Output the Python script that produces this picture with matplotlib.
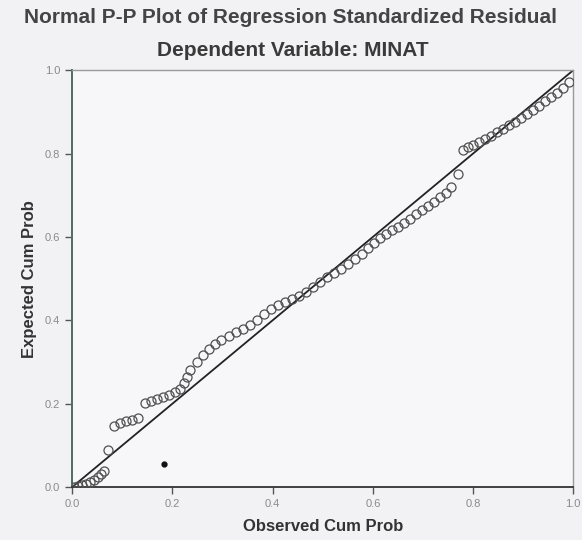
import numpy as np
import matplotlib
matplotlib.use('Agg')
import matplotlib.pyplot as plt

plt.rcParams['font.family'] = ['Liberation Sans', 'DejaVu Sans']

# observed / expected cumulative probabilities
obs = [0.004, 0.012, 0.020, 0.028, 0.036, 0.044, 0.052, 0.058, 0.064, 0.072,
       0.084, 0.096, 0.108, 0.120, 0.132,
       0.146, 0.158, 0.170, 0.182, 0.194, 0.206, 0.216, 0.224, 0.230,
       0.236, 0.250, 0.262, 0.274, 0.286, 0.298, 0.312, 0.326, 0.340, 0.354,
       0.368, 0.382, 0.396, 0.410, 0.424, 0.438, 0.452, 0.466, 0.480, 0.494,
       0.508, 0.522, 0.536, 0.550, 0.564, 0.578, 0.590, 0.602, 0.614, 0.626,
       0.638, 0.650, 0.662, 0.674, 0.686, 0.698, 0.710, 0.722, 0.734, 0.746,
       0.756, 0.770, 0.780, 0.790, 0.800, 0.812, 0.824, 0.836, 0.848, 0.860,
       0.872, 0.884, 0.896, 0.908, 0.920, 0.932, 0.944, 0.956, 0.968, 0.980,
       0.992]
exp = [0.000, 0.002, 0.005, 0.007, 0.012, 0.017, 0.024, 0.031, 0.038, 0.089,
       0.146, 0.153, 0.158, 0.161, 0.165,
       0.201, 0.206, 0.211, 0.216, 0.221, 0.228, 0.235, 0.250, 0.265,
       0.281, 0.300, 0.317, 0.331, 0.343, 0.353, 0.362, 0.372, 0.379, 0.388,
       0.400, 0.415, 0.427, 0.436, 0.444, 0.451, 0.458, 0.468, 0.480, 0.492,
       0.504, 0.513, 0.522, 0.536, 0.548, 0.560, 0.573, 0.586, 0.597, 0.607,
       0.616, 0.624, 0.633, 0.642, 0.655, 0.664, 0.674, 0.685, 0.695, 0.705,
       0.720, 0.750, 0.808, 0.815, 0.820, 0.827, 0.835, 0.842, 0.851, 0.859,
       0.868, 0.875, 0.885, 0.894, 0.904, 0.914, 0.926, 0.935, 0.945, 0.957,
       0.971]

# the lone filled dot in the lower part
dot_x = [0.184]
dot_y = [0.055]

ticks = [0.0, 0.2, 0.4, 0.6, 0.8, 1.0]
tick_labels = ['0.0', '0.2', '0.4', '0.6', '0.8', '1.0']

fig = plt.figure(figsize=(5.82, 5.40), dpi=100)
fig.patch.set_facecolor('#f2f2f4')
ax = fig.add_axes([0.124, 0.098, 0.861, 0.772])
ax.set_facecolor('#f7f7f9')

ax.plot([0, 1], [0, 1], color='#222222', lw=1.3, zorder=2)
ax.plot(obs, exp, 'o', ms=6.5, mfc='none', mec='#505050', mew=0.9, zorder=3)
ax.plot(dot_x, dot_y, 'o', ms=3.5, color='#111111', zorder=3)

ax.set_xlim(0, 1)
ax.set_ylim(0, 1)
ax.set_xticks(ticks)
ax.set_xticklabels(tick_labels)
ax.set_yticks(ticks)
ax.set_yticklabels(tick_labels)
ax.tick_params(direction='out', length=5, width=1, labelsize=8,
               labelcolor='#8a8a8a', color='#555555')

for s in ['top', 'right']:
    ax.spines[s].set_color('#9a9a9a')
    ax.spines[s].set_linewidth(1)
ax.spines['left'].set_color('#4d6b66')
ax.spines['left'].set_linewidth(1.4)
ax.spines['bottom'].set_color('#333333')
ax.spines['bottom'].set_linewidth(1.3)

ax.set_xlabel('Observed Cum Prob', fontsize=12, fontweight='bold',
              color='#333333', labelpad=7)
ax.set_ylabel('Expected Cum Prob', fontsize=12, fontweight='bold',
              color='#333333', labelpad=6)

fig.text(0.5, 0.968, 'Normal P-P Plot of Regression Standardized Residual',
         ha='center', va='center', fontsize=15, fontweight='bold', color='#444444')
fig.text(0.503, 0.907, 'Dependent Variable: MINAT',
         ha='center', va='center', fontsize=15, fontweight='bold', color='#3a3a3a')

fig.savefig('out.png', dpi=100, facecolor=fig.get_facecolor())
